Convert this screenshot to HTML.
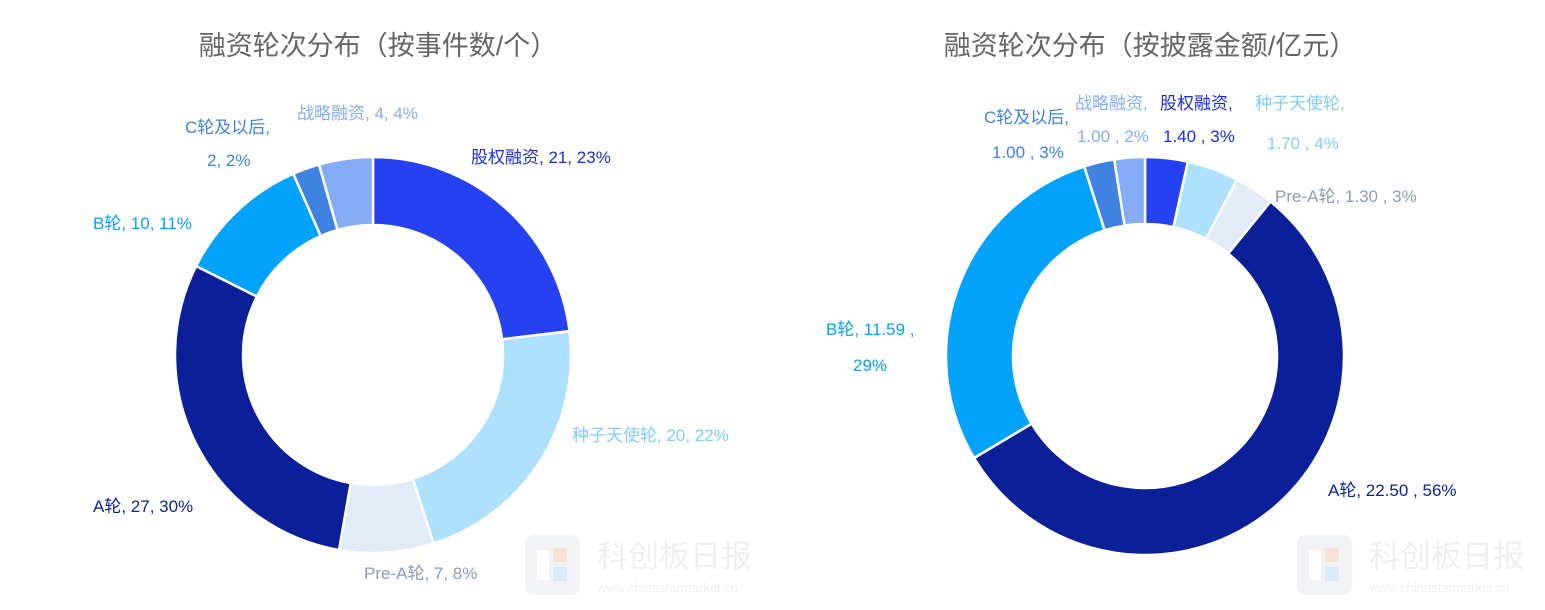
<!DOCTYPE html>
<html><head><meta charset="utf-8">
<style>
body{margin:0;width:1545px;height:610px;background:#fff;overflow:hidden;font-family:"Liberation Sans","Noto Sans CJK SC",sans-serif;}
svg{position:absolute;left:0;top:0}
</style></head>
<body>
<svg id="c" width="1545" height="610"></svg>
<script>
const categories=["股权融资","种子天使轮","Pre-A轮","A轮","B轮","C轮及以后","战略融资"];
const countValues=[21,20,7,27,10,2,4];
const countPct=["23%","22%","8%","30%","11%","2%","4%"];
const amountValues=[1.40,1.70,1.30,22.50,11.59,1.00,1.00];
const amountLabels=["1.40","1.70","1.30","22.50","11.59","1.00","1.00"];
const amountPct=["3%","4%","3%","56%","29%","3%","2%"];
const colors=["#2541F0","#ADE1FD","#E2ECF8","#0B1F99","#03A2FD","#3F82E0","#85ACF5"];
const labelColors=["#1a2fd8","#7fcdf8","#8a9bb3","#0b1f99","#03a2fd","#3f82e0","#85acf5"];
const NS="http://www.w3.org/2000/svg";
const svg=document.getElementById('c');
function mk(t,a,p){const e=document.createElementNS(NS,t);for(const k in a)e.setAttribute(k,a[k]);(p||svg).appendChild(e);return e;}
function pt(cx,cy,r,a){return [cx+r*Math.sin(a),cy-r*Math.cos(a)];}
function donut(cx,cy,R,r,vals,name){
  const g=mk('g',{});
  
  
  const tot=vals.reduce((a,b)=>a+b,0);let a0=0;
  vals.forEach((v,i)=>{
    const a1=a0+v/tot*2*Math.PI;const lg=(a1-a0)>Math.PI?1:0;
    const p1=pt(cx,cy,R,a0),p2=pt(cx,cy,R,a1),p3=pt(cx,cy,r,a1),p4=pt(cx,cy,r,a0);
    const p=mk('path',{d:`M${p1}A${R},${R} 0 ${lg} 1 ${p2}L${p3}A${r},${r} 0 ${lg} 0 ${p4}Z`,fill:colors[i],stroke:'#fff','stroke-width':2.5},g);
    
    
    a0=a1;
  });
}
function text(x,y,s,col,size,anchor,nm){
  const t=mk('text',{x:x,y:y,fill:col,'font-size':size,'text-anchor':anchor||'start'});t.textContent=s;
  
  
}
text(378,55,"融资轮次分布（按事件数/个）","#666",27,"middle","left-title");
text(1150,55,"融资轮次分布（按披露金额/亿元）","#666",27,"middle","right-title");
donut(373,355,198,130,countValues,"donut-count");
donut(1145,356,199,132,amountValues,"donut-amount");
const L=[[471,163,0,'start'],[572,441,1,'start'],[364,579,2,'start'],[93,512,3,'start'],[93,229,4,'start']];
L.forEach(([x,y,i,an])=>text(x,y,categories[i]+", "+countValues[i]+", "+countPct[i],labelColors[i],17,an,'label-count-'+i));
text(185,133,"C轮及以后,",labelColors[5],17,'start','label-count-5a');
text(207,166,"2, 2%",labelColors[5],17,'start','label-count-5b');
text(297,119,"战略融资, 4, 4%",labelColors[6],17,'start','label-count-6');
text(1160,109,categories[0]+",",labelColors[0],17,'start','label-amt-0a');
text(1163,142,amountLabels[0]+" , "+amountPct[0],labelColors[0],17,'start','label-amt-0b');
text(1255,109,categories[1]+",",labelColors[1],17,'start','label-amt-1a');
text(1267,149,amountLabels[1]+" , "+amountPct[1],labelColors[1],17,'start','label-amt-1b');
text(1275,202,categories[2]+", "+amountLabels[2]+" , "+amountPct[2],labelColors[2],17,'start','label-amt-2');
text(1328,496,categories[3]+", "+amountLabels[3]+" , "+amountPct[3],labelColors[3],17,'start','label-amt-3');
text(826,335,categories[4]+", "+amountLabels[4]+" ,",labelColors[4],17,'start','label-amt-4a');
text(853,371,amountPct[4],labelColors[4],17,'start','label-amt-4b');
text(984,123,categories[5]+",",labelColors[5],17,'start','label-amt-5a');
text(992,158,amountLabels[5]+" , "+amountPct[5],labelColors[5],17,'start','label-amt-5b');
text(1075,109,categories[6]+",",labelColors[6],17,'start','label-amt-6a');
text(1077,142,amountLabels[6]+" , "+amountPct[6],labelColors[6],17,'start','label-amt-6b');
function wm(x,nm){
  const g=mk('g',{opacity:0.5});
  
  
  mk('rect',{x:x,y:535,width:55,height:60,rx:8,fill:'#e6e9ee'},g);
  mk('rect',{x:x+12,y:550,width:12,height:30,fill:'#fff'},g);
  mk('rect',{x:x+28,y:548,width:14,height:14,fill:'#f5c9a6'},g);
  mk('rect',{x:x+28,y:567,width:14,height:14,fill:'#bcd9f2'},g);
  const t=mk('text',{x:x+72,y:567,fill:'#dfe1e4','font-size':31},g);t.textContent="科创板日报";
  const u=mk('text',{x:x+72,y:592,fill:'#dfe1e4','font-size':13},g);u.textContent="www.chinastarmarket.cn";
}
wm(525,'watermark-left');wm(1297,'watermark-right');
</script>
</body></html>
